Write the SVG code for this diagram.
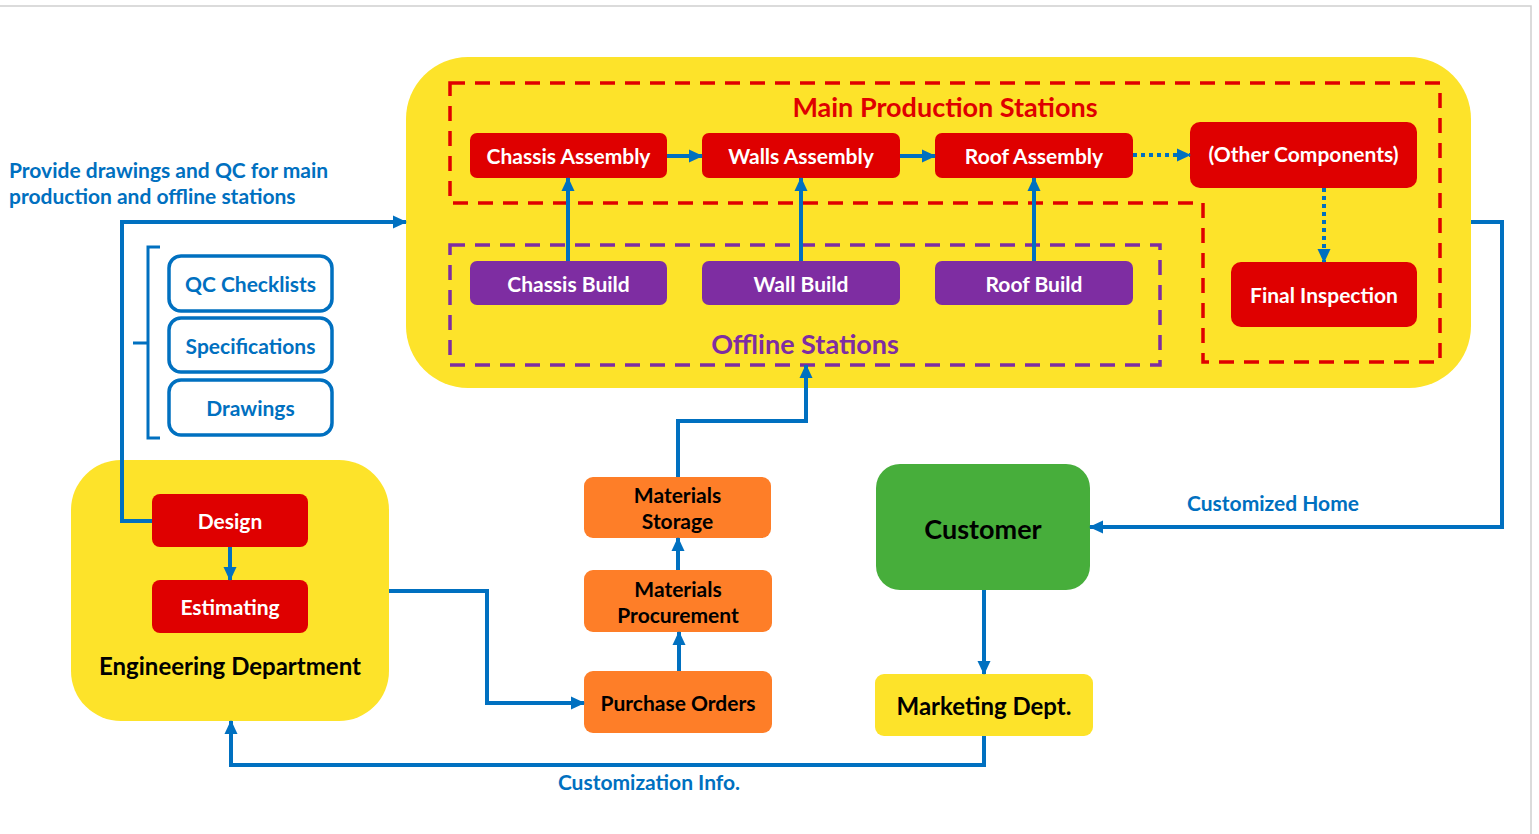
<svg xmlns="http://www.w3.org/2000/svg" width="1539" height="834" viewBox="0 0 1539 834">
  <style>
    text { font-family: Lato, "Open Sans", "Liberation Sans", sans-serif; font-weight: bold; text-anchor: middle; dominant-baseline: central; }
    .lbl-w { fill: #ffffff; font-size: 21px; }
    .lbl-k { fill: #000000; }
    .lbl-b { fill: #0070C0; font-size: 21px; }
    .start { text-anchor: start; }
    .red { fill: #DF0000; }
    .purple { fill: #7E2DA2; }
    .orange { fill: #FE7E28; }
    .yellow { fill: #FDE32A; }
    .doc { fill: #ffffff; stroke: #0070C0; stroke-width: 3.5; }
    .wire { fill: none; stroke: #0070C0; stroke-width: 4; }
    .dot { fill: none; stroke: #0070C0; stroke-width: 4; stroke-dasharray: 4 4; }
    .dash-red { fill: none; stroke: #DF0000; stroke-width: 3.5; stroke-dasharray: 15 10; }
    .dash-purple { fill: none; stroke: #7E2DA2; stroke-width: 3.5; stroke-dasharray: 15 10; }
  </style>
  <defs>
    <marker id="arrow" markerUnits="userSpaceOnUse" markerWidth="15" markerHeight="15" refX="13" refY="7.5" orient="auto">
      <path d="M0,1 L14,7.5 L0,14 Z" fill="#0070C0"/>
    </marker>
  </defs>

  <!-- page frame -->
  <rect width="1539" height="834" fill="#ffffff"/>
  <path d="M0,6 H1531 V834" fill="none" stroke="#cfcfcf" stroke-width="1.5"/>

  <!-- production area -->
  <g id="production-area">
    <rect x="406" y="57" width="1065" height="331" rx="62" class="yellow"/>
    <path d="M450,83 H1440 V362 H1203 V203 H450 Z" class="dash-red"/>
    <rect x="450" y="245" width="710" height="120" class="dash-purple"/>
    <text x="945" y="106" font-size="27" fill="#DF0000">Main Production Stations</text>
    <text x="805" y="343" font-size="27" fill="#7E2DA2">Offline Stations</text>
  </g>

  <!-- main production stations -->
  <g id="chassis-assembly">
    <rect x="470" y="133" width="197" height="45" rx="7" class="red"/>
    <text x="568.5" y="155" class="lbl-w">Chassis Assembly</text>
  </g>
  <g id="walls-assembly">
    <rect x="702" y="133" width="198" height="45" rx="7" class="red"/>
    <text x="801" y="155" class="lbl-w">Walls Assembly</text>
  </g>
  <g id="roof-assembly">
    <rect x="935" y="133" width="198" height="45" rx="7" class="red"/>
    <text x="1034" y="155" class="lbl-w">Roof Assembly</text>
  </g>
  <g id="other-components">
    <rect x="1190" y="122" width="227" height="66" rx="10" class="red"/>
    <text x="1303.5" y="153" class="lbl-w">(Other Components)</text>
  </g>
  <g id="final-inspection">
    <rect x="1231" y="262" width="186" height="65" rx="10" class="red"/>
    <text x="1324" y="294" class="lbl-w">Final Inspection</text>
  </g>

  <!-- offline stations -->
  <g id="chassis-build">
    <rect x="470" y="261" width="197" height="44" rx="7" class="purple"/>
    <text x="568.5" y="283" class="lbl-w">Chassis Build</text>
  </g>
  <g id="wall-build">
    <rect x="702" y="261" width="198" height="44" rx="7" class="purple"/>
    <text x="801" y="283" class="lbl-w">Wall Build</text>
  </g>
  <g id="roof-build">
    <rect x="935" y="261" width="198" height="44" rx="7" class="purple"/>
    <text x="1034" y="283" class="lbl-w">Roof Build</text>
  </g>

  <!-- engineering documents -->
  <g id="documents">
    <path d="M160,247 H148 V438 H160 M148,343 H133" fill="none" stroke="#0070C0" stroke-width="3"/>
    <text x="9" y="169" class="lbl-b start">Provide drawings and QC for main</text>
    <text x="9" y="195" class="lbl-b start">production and offline stations</text>
  </g>
  <g id="qc-checklists">
    <rect x="169" y="256" width="163" height="55" rx="12" class="doc"/>
    <text x="250.5" y="283" class="lbl-b">QC Checklists</text>
  </g>
  <g id="specifications">
    <rect x="169" y="318" width="163" height="54" rx="12" class="doc"/>
    <text x="250.5" y="345" class="lbl-b">Specifications</text>
  </g>
  <g id="drawings">
    <rect x="169" y="380" width="163" height="55" rx="12" class="doc"/>
    <text x="250.5" y="407" class="lbl-b">Drawings</text>
  </g>

  <!-- engineering department -->
  <g id="engineering-department">
    <rect x="71" y="460" width="318" height="261" rx="50" class="yellow"/>
    <text x="230" y="665" font-size="24" class="lbl-k">Engineering Department</text>
  </g>
  <g id="design">
    <rect x="152" y="494" width="156" height="53" rx="8" class="red"/>
    <text x="230" y="520" class="lbl-w">Design</text>
  </g>
  <g id="estimating">
    <rect x="152" y="580" width="156" height="53" rx="8" class="red"/>
    <text x="230" y="606" class="lbl-w">Estimating</text>
  </g>

  <!-- materials -->
  <g id="materials-storage">
    <rect x="584" y="477" width="187" height="61" rx="9" class="orange"/>
    <text x="677.5" y="494" font-size="21" class="lbl-k">Materials</text>
    <text x="677.5" y="520" font-size="21" class="lbl-k">Storage</text>
  </g>
  <g id="materials-procurement">
    <rect x="584" y="570" width="188" height="62" rx="9" class="orange"/>
    <text x="678" y="588" font-size="21" class="lbl-k">Materials</text>
    <text x="678" y="614" font-size="21" class="lbl-k">Procurement</text>
  </g>
  <g id="purchase-orders">
    <rect x="584" y="671" width="188" height="62" rx="9" class="orange"/>
    <text x="678" y="702" font-size="21" class="lbl-k">Purchase Orders</text>
  </g>

  <!-- customer side -->
  <g id="customer">
    <rect x="876" y="464" width="214" height="126" rx="24" fill="#47AE3B"/>
    <text x="983" y="528" font-size="27" class="lbl-k">Customer</text>
  </g>
  <g id="marketing-dept">
    <rect x="875" y="674" width="218" height="62" rx="9" class="yellow"/>
    <text x="984" y="705" font-size="24" class="lbl-k">Marketing Dept.</text>
  </g>

  <!-- connectors -->
  <g id="connectors">
    <path d="M667,156 H702" class="wire" marker-end="url(#arrow)"/>
    <path d="M900,156 H935" class="wire" marker-end="url(#arrow)"/>
    <path d="M1133,155 H1190" class="dot" marker-end="url(#arrow)"/>
    <path d="M1324,188 V262" class="dot" marker-end="url(#arrow)"/>
    <path d="M568,261 V178" class="wire" marker-end="url(#arrow)"/>
    <path d="M801,261 V178" class="wire" marker-end="url(#arrow)"/>
    <path d="M1034,261 V178" class="wire" marker-end="url(#arrow)"/>
    <path d="M152,521 H122 V222 H406" class="wire" marker-end="url(#arrow)"/>
    <path d="M230,547 V580" class="wire" marker-end="url(#arrow)"/>
    <path d="M389,591 H487 V703 H584" class="wire" marker-end="url(#arrow)"/>
    <path d="M679,671 V632" class="wire" marker-end="url(#arrow)"/>
    <path d="M678,570 V538" class="wire" marker-end="url(#arrow)"/>
    <path d="M678,477 V421 H806 V365" class="wire" marker-end="url(#arrow)"/>
    <path d="M1471,222 H1502 V527 H1090" class="wire" marker-end="url(#arrow)"/>
    <path d="M984,590 V674" class="wire" marker-end="url(#arrow)"/>
    <path d="M984,736 V765 H231 V721" class="wire" marker-end="url(#arrow)"/>
    <text x="1273" y="502" class="lbl-b">Customized Home</text>
    <text x="649" y="781" class="lbl-b">Customization Info.</text>
  </g>
</svg>
